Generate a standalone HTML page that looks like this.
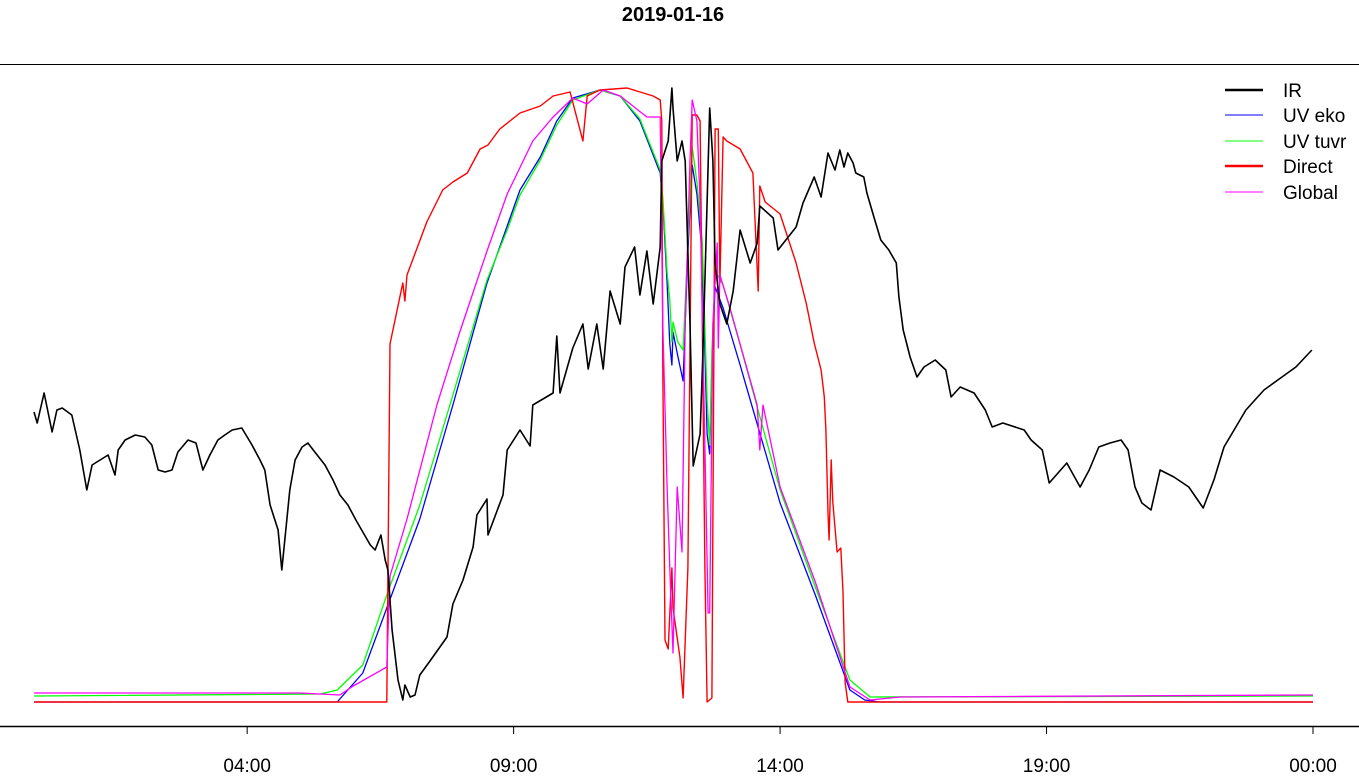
<!DOCTYPE html>
<html><head><meta charset="utf-8"><style>
body{margin:0;background:#fff;}
svg{display:block;font-family:"Liberation Sans",sans-serif;}
</style></head><body>
<svg id="chart" width="1359" height="784" viewBox="0 0 1359 784">
<text x="673" y="21" text-anchor="middle" font-size="20" font-weight="bold">2019-01-16</text>
<line x1="0" y1="64.5" x2="1359" y2="64.5" stroke="#000" stroke-width="1"/>
<line x1="0" y1="726.5" x2="1359" y2="726.5" stroke="#000" stroke-width="1.5"/>
<g id="ticks"></g>
<g id="series"></g>
<g font-size="19">
<g><line x1="1225" y1="90" x2="1263" y2="90" stroke="#000" stroke-width="2.5"/><text x="1283" y="97">IR</text></g>
<g><line x1="1225" y1="115" x2="1263" y2="115" stroke="#00f" stroke-width="1"/><text x="1283" y="122">UV eko</text></g>
<g><line x1="1225" y1="141" x2="1263" y2="141" stroke="#0f0" stroke-width="1"/><text x="1283" y="148">UV tuvr</text></g>
<g><line x1="1225" y1="166" x2="1263" y2="166" stroke="#f00" stroke-width="2.5"/><text x="1283" y="173">Direct</text></g>
<g><line x1="1225" y1="192" x2="1263" y2="192" stroke="#f0f" stroke-width="1"/><text x="1283" y="199">Global</text></g>
</g>
</svg>
<script>
const tickHours=[4,9,14,19,24];
const tickLabels=["04:00","09:00","14:00","19:00","00:00"];
const irH=[0,0.06,0.19,0.34,0.43,0.53,0.71,0.86,0.99,1.09,1.24,1.39,1.52,1.58,1.71,1.90,2.08,2.21,2.33,2.46,2.59,2.70,2.89,3.04,3.17,3.30,3.45,3.58,3.72,3.90,4.09,4.24,4.33,4.43,4.58,4.65,4.80,4.90,5.03,5.14,5.27,5.46,5.61,5.74,5.89,6.04,6.17,6.31,6.40,6.51,6.59,6.64,6.72,6.83,6.92,6.96,7.06,7.15,7.24,7.43,7.75,7.86,8.05,8.24,8.31,8.50,8.52,8.80,8.88,9.12,9.31,9.36,9.74,9.81,9.87,10.11,10.30,10.40,10.56,10.68,10.81,11.00,11.09,11.27,11.37,11.50,11.62,11.75,11.78,11.90,11.97,11.99,12.07,12.16,12.22,12.31,12.37,12.50,12.55,12.63,12.68,12.74,12.78,12.87,13.0,13.12,13.25,13.44,13.57,13.62,13.87,13.96,14.30,14.43,14.64,14.77,14.90,15.03,15.12,15.20,15.27,15.37,15.42,15.57,15.63,15.76,15.89,16.04,16.18,16.23,16.31,16.44,16.57,16.70,16.91,17.11,17.21,17.38,17.64,17.85,17.98,18.18,18.58,18.71,18.92,19.05,19.38,19.63,19.80,19.98,20.19,20.40,20.53,20.66,20.79,20.96,21.13,21.39,21.67,21.94,22.14,22.33,22.74,23.08,23.34,23.68,23.98];
const irV=[290,279,309,270,292,294,287,252,212,237,242,247,227,252,262,267,265,257,232,230,232,250,262,259,232,247,262,267,272,274,257,242,232,197,172,132,212,242,255,259,250,237,222,207,197,182,170,157,152,167,142,132,72,22,2,17,5,7,27,41,65,98,122,155,187,203,167,207,252,272,256,297,309,366,309,354,378,333,378,333,411,378,435,455,407,451,398,455,541,561,614,594,541,561,541,378,236,268,346,500,594,541,439,398,378,411,472,439,459,496,484,452,475,499,525,505,549,532,552,535,549,539,529,525,509,485,462,452,439,405,372,345,325,335,342,332,305,315,309,292,275,279,272,262,252,219,239,215,232,255,259,262,252,215,199,192,232,225,215,194,222,255,292,312,322,335,352];
const ekoH=[0,5.69,6.17,6.62,7.24,7.86,8.50,8.88,9.12,9.50,9.81,10.11,10.62,11.0,11.37,11.75,11.80,11.88,11.93,11.97,11.99,12.08,12.18,12.27,12.35,12.44,12.54,12.63,12.68,12.72,12.78,12.93,13.25,14.0,14.66,15.31,15.59,15.87,24];
const ekoV=[0,0,29,94,183,297,419,476,512,545,581,604,612,606,581,529,500,419,358,337,370,346,321,451,537,508,447,268,248,337,415,394,337,199,107,12,2,0,0];
const tuvH=[0,5.37,5.69,6.17,6.62,7.24,7.86,8.50,8.88,9.12,9.50,9.81,10.11,10.62,11.0,11.37,11.75,11.80,11.88,11.93,11.97,11.99,12.08,12.18,12.27,12.35,12.44,12.54,12.63,12.68,12.72,12.78,12.93,13.25,14.0,14.66,15.31,15.69,24];
const tuvV=[6,8,12,37,107,197,307,422,472,507,542,577,602,612,606,583,532,505,430,402,360,380,360,352,460,555,520,460,302,257,350,432,417,357,212,115,22,5,6];
const dirH=[0,6.62,6.68,6.92,6.96,7.0,7.37,7.67,7.86,8.13,8.37,8.52,8.74,9.12,9.50,9.74,10.06,10.30,10.38,10.62,11.13,11.62,11.75,11.78,11.80,11.84,11.90,11.97,11.99,12.12,12.18,12.27,12.35,12.44,12.50,12.54,12.59,12.63,12.72,12.78,12.84,12.87,12.93,13.0,13.25,13.49,13.59,13.62,13.72,14.0,14.30,14.49,14.64,14.77,14.83,14.86,14.90,14.92,14.96,14.99,15.07,15.14,15.18,15.22,15.27,24];
const dirV=[0,0,358,419,401,427,480,512,520,529,553,557,573,589,596,606,610,561,606,612,614,606,602,581,337,62,53,134,94,45,4,134,587,587,581,378,134,0,4,573,573,419,565,561,553,529,411,516,500,488,439,399,359,332,305,272,189,162,242,200,150,154,110,20,0,0];
const gloH=[0,4.99,5.74,5.99,6.62,6.68,7.0,7.56,7.99,8.50,8.88,9.36,9.74,10.11,10.38,10.68,11.0,11.50,11.75,11.80,11.88,11.93,11.99,12.07,12.16,12.22,12.31,12.35,12.44,12.50,12.59,12.65,12.68,12.74,12.82,12.84,12.87,13.06,13.57,13.62,13.68,14.0,14.66,15.31,15.69,16.25,24];
const gloV=[9,9,7,16,35,126,183,297,370,451,508,561,585,604,598,612,606,585,585,378,215,134,49,215,150,378,541,602,581,500,256,89,89,378,459,354,427,394,297,252,297,215,120,15,2,5,7];
const x=h=>34+h*(1279/24);
const y=v=>702-v;
const NS="http://www.w3.org/2000/svg";
const tg=document.getElementById('ticks');
tickHours.forEach((h,i)=>{
  const l=document.createElementNS(NS,'line');
  l.setAttribute('x1',x(h));l.setAttribute('x2',x(h));l.setAttribute('y1',726);l.setAttribute('y2',734);
  l.setAttribute('stroke','#000');
  
  
  tg.appendChild(l);
  const t=document.createElementNS(NS,'text');
  t.setAttribute('x',x(h));t.setAttribute('y',772);t.setAttribute('text-anchor','middle');t.setAttribute('font-size','19');
  t.textContent=tickLabels[i];
  
  
  tg.appendChild(t);
});
const sg=document.getElementById('series');
function draw(H,V,color,w,name){
  const p=document.createElementNS(NS,'polyline');
  p.setAttribute('points',H.map((h,i)=>x(h).toFixed(1)+','+y(V[i]).toFixed(1)).join(' '));
  p.setAttribute('fill','none');p.setAttribute('stroke',color);p.setAttribute('stroke-width',w);
  p.setAttribute('stroke-linejoin','round');
  
  
  sg.appendChild(p);
}
draw(ekoH,ekoV,'#00f',1.3,'uv-eko-line');
draw(tuvH,tuvV,'#0f0',1.3,'uv-tuvr-line');
draw(dirH,dirV,'#f00',1.4,'direct-line');
draw(gloH,gloV,'#f0f',1.3,'global-line');
draw(irH,irV,'#000',1.6,'ir-line');
</script>
</body></html>
